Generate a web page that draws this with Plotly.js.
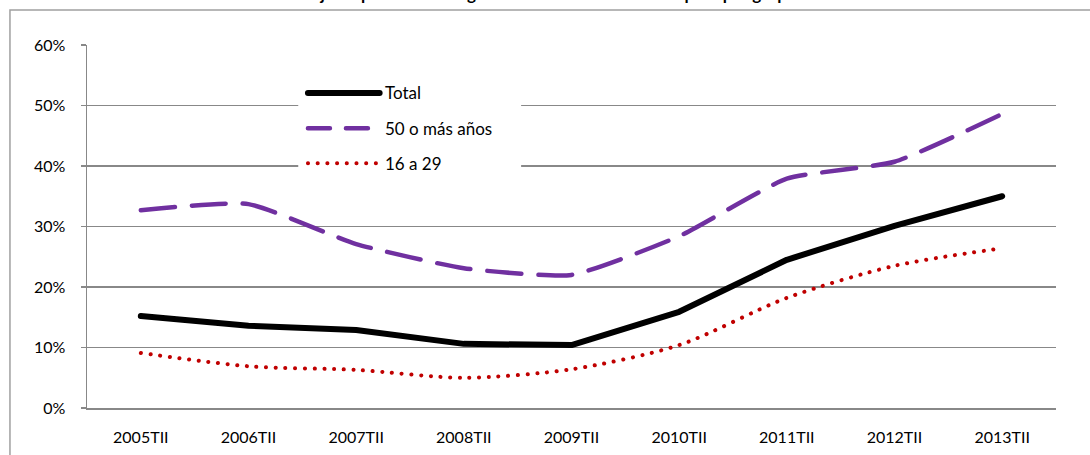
<!DOCTYPE html>
<html>
<head>
<meta charset="utf-8">
<script src="https://cdn.plot.ly/plotly-3.0.1.min.js"></script>
<style>
  html, body { margin: 0; padding: 0; background: #fff; overflow: hidden; }
  #chart { position: absolute; left: 0; top: 0; width: 1090px; height: 455px; }
  path.js-line { stroke-linecap: round; stroke-linejoin: round; }
  .shapelayer path { stroke-linecap: round; }
</style>
</head>
<body>
<div id="chart"></div>
<script>
const categories = ["2005TII","2006TII","2007TII","2008TII","2009TII","2010TII","2011TII","2012TII","2013TII"];
const totalValues = [15.2, 13.6, 12.9, 10.6, 10.4, 15.9, 24.5, 30.1, 35.0];
const mayores50Values = [32.7, 33.7, 27.1, 23.1, 22.0, 28.4, 37.9, 40.7, 48.6];
const jovenesValues = [9.1, 6.9, 6.3, 5.0, 6.4, 10.4, 18.2, 23.5, 26.4];
const seriesNames = ["Total", "50 o más años", "16 a 29"];
const yTickVals = [0, 10, 20, 30, 40, 50, 60];
const yTickText = ["0%", "10%", "20%", "30%", "40%", "50%", "60%"];
const titleText = "Porcentaje de parados de larga duración sobre el total de paro por grupo de edad";

const FONT = "Lato, 'Open Sans', sans-serif";
const colors = ["#000000", "#7030A0", "#C00000"];
const widths = [6, 4.5, 4];
const dashes = ["solid", "34px,17px", "0.1px,9.6px"];

const traces = [
  { x: categories, y: totalValues, name: seriesNames[0], type: "scatter", mode: "lines",
    line: { color: colors[0], width: widths[0], dash: dashes[0] }, showlegend: false },
  { x: categories, y: mayores50Values, name: seriesNames[1], type: "scatter", mode: "lines",
    line: { color: colors[1], width: widths[1], dash: dashes[1], shape: "spline", smoothing: 0.5 }, showlegend: false },
  { x: categories, y: jovenesValues, name: seriesNames[2], type: "scatter", mode: "lines",
    line: { color: colors[2], width: widths[2], dash: dashes[2], shape: "spline", smoothing: 0.8 }, showlegend: false }
];

// Outer chart frame (chart area border of the original)
const shapes = [
  { type: "rect", xref: "paper", yref: "paper", x0: -0.0795, x1: 1.3, y0: -0.5, y1: 1.0964,
    fillcolor: "rgba(0,0,0,0)", line: { color: "#a0a0a0", width: 1.5 }, layer: "below" },
  // legend background
  { type: "rect", xref: "paper", yref: "paper", x0: 0.218, x1: 0.448, y0: 0.62, y1: 0.92,
    fillcolor: "#ffffff", line: { width: 0 }, layer: "above" }
];
// Legend drawn in paper coordinates
const legX0 = 0.228, legX1 = 0.302, legTextX = 0.305;
const legY = [0.868, 0.771, 0.674];
const annotations = [];
seriesNames.forEach((n, i) => {
  shapes.push({ type: "line", xref: "paper", yref: "paper", x0: legX0, x1: legX1, y0: legY[i], y1: legY[i],
    line: { color: colors[i], width: widths[i], dash: dashes[i] === "solid" ? "solid" : (i === 1 ? "22px,16px" : dashes[i]) }, layer: "above" });
  annotations.push({ xref: "paper", yref: "paper", x: legTextX, y: legY[i], xanchor: "left", yanchor: "middle",
    text: n, showarrow: false, font: { family: FONT, size: 17, color: "#000" } });
});
annotations.push({ xref: "paper", yref: "paper", x: 0.485, y: 1.108, xanchor: "center", yanchor: "bottom",
  text: "<b>" + titleText + "</b>", showarrow: false, font: { family: FONT, size: 17, color: "#000" } });

const layout = {
  width: 1090, height: 455,
  margin: { l: 87, r: 34, t: 45, b: 47, pad: 0 },
  paper_bgcolor: "#ffffff", plot_bgcolor: "rgba(0,0,0,0)",
  font: { family: FONT, size: 16, color: "#000" },
  xaxis: {
    type: "category", range: [-0.5, 8.5], showgrid: false, zeroline: false,
    showline: true, linecolor: "#888888", linewidth: 1.5, ticks: "",
    ticklabelstandoff: 14,
    tickfont: { family: FONT, size: 16, color: "#000" }
  },
  yaxis: {
    range: [0, 60], tickvals: yTickVals, ticktext: yTickText,
    showgrid: true, gridcolor: "#888888", gridwidth: 1.5, zeroline: false,
    showline: true, linecolor: "#888888", linewidth: 1.5,
    ticks: "outside", ticklen: 5, tickcolor: "#888888", tickwidth: 1.5,
    ticklabelstandoff: 12,
    tickfont: { family: FONT, size: 16, color: "#000" }
  },
  shapes: shapes,
  annotations: annotations,
  showlegend: false
};

Plotly.newPlot("chart", traces, layout, { staticPlot: true, displayModeBar: false });
</script>
</body>
</html>
